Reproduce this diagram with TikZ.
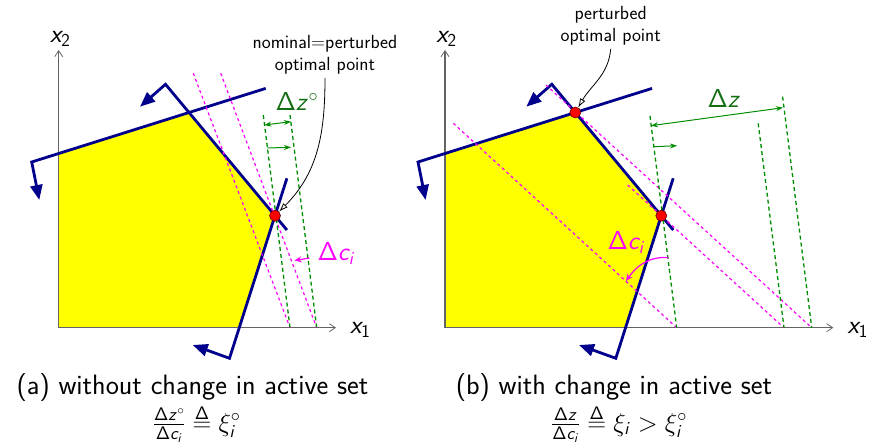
\RequirePackage{fix-cm}
\documentclass[tikz,border=0pt]{standalone}
\usetikzlibrary{arrows.meta}
\DeclareMathAlphabet{\mathsfup}{OT1}{cmss}{m}{n}
\DeclareMathAlphabet{\mathsfit}{OT1}{cmss}{m}{sl}
\newcommand{\SD}{\mathsfup{\Delta}}
\newcommand{\Sz}{\mathsfit{z}}
\newcommand{\Sc}{\mathsfit{c}}
\newcommand{\Si}{\mathsfit{i}}
\newcommand{\Sx}{\mathsfit{x}}
\definecolor{cblue}{RGB}{0,0,140}
\definecolor{cgreen}{RGB}{0,140,0}
\definecolor{cgreenT}{RGB}{20,110,20}
\definecolor{cmag}{RGB}{255,0,255}
\definecolor{cyel}{RGB}{255,255,0}
\definecolor{cgray}{RGB}{100,100,100}
\tikzset{
  axis/.style={cgray,line width=1.3pt,-{Straight Barb[length=6pt,width=8pt,line width=0.8pt]}},
  cons/.style={cblue,line width=2.8pt,-{Triangle[length=15pt,width=12pt]}},
  magd/.style={cmag,line width=1.2pt,dash pattern=on 3pt off 3pt},
  grnd/.style={cgreen,line width=1.3pt,dash pattern=on 4pt off 3pt},
  garr/.style={cgreen,line width=1pt,-{Stealth[length=7pt,width=5pt]}},
  garrd/.style={cgreen,line width=1pt,{Stealth[length=7pt,width=5pt]}-{Stealth[length=7pt,width=5pt]}},
  marr/.style={cmag,line width=1.2pt,-{Stealth[length=7pt,width=6pt]}},
  annot/.style={black,line width=0.8pt,-{Latex[open,length=9pt,width=6pt]}},
  dot/.style={circle,fill=red,draw=red!40!black,line width=0.6pt,minimum size=11pt,inner sep=0pt},
  axlbl/.style={anchor=base west,font=\fontsize{26}{30}\selectfont},
  anntxt/.style={font=\sffamily\fontsize{19}{22}\selectfont,align=center},
  capt/.style={font=\sffamily\fontsize{28}{32}\selectfont,inner sep=0pt,text depth=0pt},
  form/.style={font=\sffamily\fontsize{26}{29}\selectfont,inner sep=0pt,anchor=base},
  glbl/.style={anchor=base west,text=cgreenT,font=\fontsize{26}{30}\selectfont},
  mlbl/.style={anchor=base west,text=cmag,font=\fontsize{26}{30}\selectfont},
}
\begin{document}
\begin{tikzpicture}[x=1pt,y=-1pt,font=\sffamily]
\useasboundingbox (0,0) rectangle (875,446);

\foreach \p/\s/\xe/\xl in {a/0/336/346.7,b/386.3/447/457.7}{
\begin{scope}[xshift=\s pt]
  \coordinate (\p-O) at (58.7,327.7);
  \coordinate (\p-Y) at (58.7,50);
  \coordinate (\p-X) at (\xe,327.7);
  \coordinate (\p-A) at (58.7,153.5);
  \coordinate (\p-V1) at (189,112.5);
  \coordinate (\p-V2) at (275,215.7);
  \coordinate (\p-B) at (239.3,327.7);
  \fill[cyel] (\p-O) -- (\p-A) -- (\p-V1) -- (\p-V2) -- (\p-B) -- cycle;
  \draw[axis] (\p-O) -- (\p-Y);
  \draw[axis] (\p-O) -- (\p-X);
  \node[axlbl] (\p-x1) at (\xl,333.3) {$\Sx_{\mathsfup{1}}$};
  \node[axlbl] (\p-x2) at (46.5,42.7) {$\Sx_{\mathsfup{2}}$};
  \coordinate (\p-L1a) at (31.7,162);
  \coordinate (\p-L1b) at (265.7,88.4);
  \coordinate (\p-H1) at (39.3,200);
  \coordinate (\p-L2a) at (165.5,84.3);
  \coordinate (\p-L2b) at (286.9,230);
  \coordinate (\p-H2) at (140,106.7);
  \coordinate (\p-L3a) at (286.9,178.3);
  \coordinate (\p-L3b) at (229.5,358.3);
  \coordinate (\p-H3) at (192.7,345);
  \draw[cons] (\p-L1b) -- (\p-L1a) -- (\p-H1);
  \draw[cons] (\p-L2b) -- (\p-L2a) -- (\p-H2);
  \draw[cons] (\p-L3a) -- (\p-L3b) -- (\p-H3);
\end{scope}
}

% ---------- panel (a)
\coordinate (ma1t) at (193.3,73.3); \coordinate (ma1b) at (290,327.7);
\coordinate (ma2t) at (220.7,73.3); \coordinate (ma2b) at (316.7,327.7);
\coordinate (ga1t) at (263.3,115);  \coordinate (ga1b) at (290,327.7);
\coordinate (ga2t) at (290,115);    \coordinate (ga2b) at (316.7,327.7);
\draw[magd] (ma1t) -- (ma1b);
\draw[magd] (ma2t) -- (ma2b);
\draw[grnd] (ga1t) -- (ga1b);
\draw[grnd] (ga2t) -- (ga2b);
\node[dot] (pa) at (a-V2) {};
\coordinate (gaa1) at (264.3,125); \coordinate (gaa2) at (291,121.7);
\coordinate (gab1) at (267.3,148); \coordinate (gab2) at (291,147.3);
\draw[garrd] (gaa1) -- (gaa2);
\draw[garr] (gab1) -- (gab2);
\node[glbl] (dza) at (272,111) {$\SD\Sz^{\circ}$};
\node[mlbl] (dca) at (314,261) {$\SD\Sc_{\Si}$};
\coordinate (mca1) at (309.5,258); \coordinate (mca2) at (294.5,260.5);
\draw[marr] (mca1) -- (mca2);
\node[anntxt] (anna) at (325,55) {nominal=perturbed\\optimal point};
\draw[annot] (anna.south) to[out=-90,in=45] (pa);

% ---------- panel (b)
\coordinate (mb1t) at (546,85);    \coordinate (mb1b) at (811.7,327.7);
\coordinate (mb2t) at (627.7,185); \coordinate (mb2b) at (783.9,327.7);
\coordinate (mb3t) at (453.3,123.3); \coordinate (mb3b) at (676.7,327.7);
\coordinate (gb1t) at (650,116);   \coordinate (gb1b) at (676.7,327.7);
\coordinate (gb2t) at (758.2,123.3); \coordinate (gb2b) at (784,327.7);
\coordinate (gb3t) at (782.6,96.7); \coordinate (gb3b) at (811.7,327.7);
\draw[magd] (mb1t) -- (mb1b);
\draw[magd] (mb2t) -- (mb2b);
\draw[magd] (mb3t) -- (mb3b);
\draw[grnd] (gb1t) -- (gb1b);
\draw[grnd] (gb2t) -- (gb2b);
\draw[grnd] (gb3t) -- (gb3b);
\node[dot] (pb1) at (b-V1) {};
\node[dot] (pb2) at (b-V2) {};
\coordinate (gba1) at (651,125.7); \coordinate (gba2) at (783,107.7);
\coordinate (gbb1) at (654.3,146.7); \coordinate (gbb2) at (677,145.7);
\draw[garrd] (gba1) -- (gba2);
\draw[garr] (gbb1) -- (gbb2);
\node[glbl] (dzb) at (704,107.3) {$\SD\Sz$};
\node[mlbl] (dcb) at (604,250) {$\SD\Sc_{\Si}$};
\coordinate (mcb1) at (668.3,257.7); \coordinate (mcb2) at (626,281);
\draw[marr] (mcb1) to[out=175,in=55] (mcb2);
\node[anntxt] (annb) at (610.7,26) {perturbed\\optimal point};
\draw[annot] (annb.south) to[out=-95,in=60] (pb1);

% ---------- captions
\node[capt,anchor=base] (capa) at (192.5,394.5) {(a) without change in active set};
\node[form] (fa) at (196.7,431) {$\frac{\SD\Sz^{\circ}}{\SD\Sc_{\Si}} \stackrel{\SD}{=} \xi_{\Si}^{\circ}$};
\node[capt,anchor=base] (capb) at (614,394.5) {(b) with change in active set};
\node[form] (fb) at (619,431) {$\frac{\SD\Sz}{\SD\Sc_{\Si}} \stackrel{\SD}{=} \xi_{\Si} > \xi_{\Si}^{\circ}$};
\end{tikzpicture}
\end{document}
